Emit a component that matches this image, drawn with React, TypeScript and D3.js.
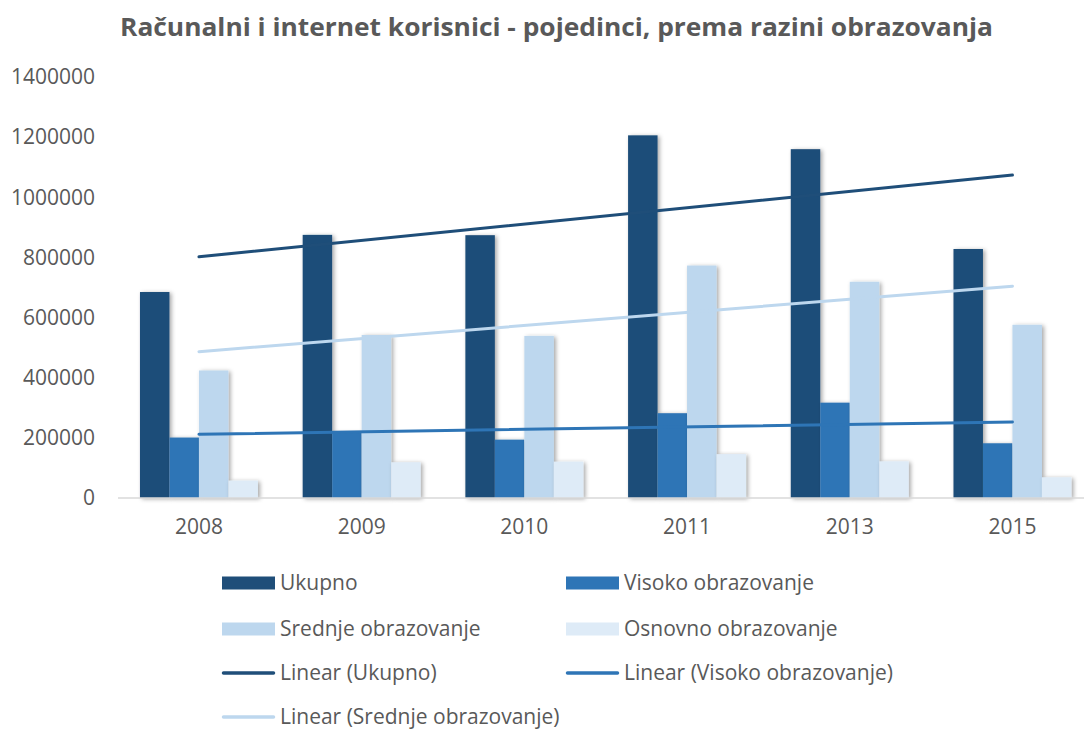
import React from "react";
import * as d3 from "d3";

const categories = ["2008", "2009", "2010", "2011", "2013", "2015"];
const seriesNames = ["Ukupno", "Visoko obrazovanje", "Srednje obrazovanje", "Osnovno obrazovanje"];
const ukupno = [685000, 875000, 874000, 1206000, 1160000, 828000];
const visoko = [201000, 219000, 194000, 282000, 317000, 182000];
const srednje = [424000, 542000, 539000, 773000, 719000, 576000];
const osnovno = [58000, 119000, 121000, 146000, 122000, 69000];
const yTicks = [0, 200000, 400000, 600000, 800000, 1000000, 1200000, 1400000];
const colors = ["#1F4E79", "#2E75B6", "#BDD7EE", "#DEEBF7"];
const trendSeries = [0, 1, 2];

const W = 1084;
const H = 729;
const FONT = "'Open Sans', 'DejaVu Sans', sans-serif";
const TXT = "#595959";

function linReg(vals: number[]) {
  const n = vals.length;
  const xs = vals.map((_, i) => i + 1);
  const mx = d3.mean(xs) as number;
  const my = d3.mean(vals) as number;
  let sxy = 0;
  let sxx = 0;
  xs.forEach((x, i) => {
    sxy += (x - mx) * (vals[i] - my);
    sxx += (x - mx) * (x - mx);
  });
  const b = sxy / sxx;
  const a = my - b * mx;
  return [a + b * 1, a + b * n];
}

export default function App() {
  const data = [ukupno, visoko, srednje, osnovno];
  const x0 = d3.scaleBand<string>().domain(categories).range([117.6, 1093.8]).paddingInner(0.275).paddingOuter(0.1375);
  const x1 = d3.scaleBand<number>().domain([0, 1, 2, 3]).range([0, x0.bandwidth()]);
  const y = d3.scaleLinear().domain([0, 1400000]).range([498, 77]);
  const cx = (c: string) => (x0(c) as number) + x0.bandwidth() / 2;

  const legendItems = [
    { label: seriesNames[0], color: colors[0], type: "bar" },
    { label: seriesNames[1], color: colors[1], type: "bar" },
    { label: seriesNames[2], color: colors[2], type: "bar" },
    { label: seriesNames[3], color: colors[3], type: "bar" },
    { label: "Linear (Ukupno)", color: colors[0], type: "line" },
    { label: "Linear (Visoko obrazovanje)", color: colors[1], type: "line" },
    { label: "Linear (Srednje obrazovanje)", color: colors[2], type: "line" },
  ];
  const legendCols = [222, 566];
  const legendRows = [583, 629, 673, 717];

  return (
    <svg width={W} height={H} style={{ position: "absolute", left: 0, top: 0, background: "#fff" }} fontFamily={FONT}>
      <defs>
        <filter id="shadow" x="-20%" y="-5%" width="150%" height="115%">
          <feDropShadow dx="2" dy="1" stdDeviation="2" floodColor="#000" floodOpacity="0.35" />
        </filter>
      </defs>
      <rect x={0} y={0} width={W} height={H} fill="#fff" />
      <text x={556.5} y={36} textAnchor="middle" fontSize={25} fontWeight="bold" fill={TXT} textLength={873} lengthAdjust="spacingAndGlyphs">
        Računalni i internet korisnici - pojedinci, prema razini obrazovanja
      </text>
      {yTicks.map((t) => (
        <text key={t} x={95} y={y(t)} dy="0.35em" textAnchor="end" fontSize={21} fill={TXT}>
          {t}
        </text>
      ))}
      {data.map((vals, si) => (
        <g key={si} filter="url(#shadow)">
          {vals.map((v, ci) => (
            <rect
              key={ci}
              x={(x0(categories[ci]) as number) + (x1(si) as number)}
              y={y(v)}
              width={x1.bandwidth()}
              height={y(0) - y(v)}
              fill={colors[si]}
            />
          ))}
        </g>
      ))}
      <line x1={118} x2={W} y1={498} y2={498} stroke="#D9D9D9" strokeWidth={1.5} />
      {categories.map((c) => (
        <text key={c} x={cx(c)} y={527} dy="0.35em" textAnchor="middle" fontSize={21} fill={TXT}>
          {c}
        </text>
      ))}
      {trendSeries.map((si) => {
        const [a, b] = linReg(data[si]);
        return (
          <line
            key={si}
            x1={cx(categories[0])}
            x2={cx(categories[categories.length - 1])}
            y1={y(a)}
            y2={y(b)}
            stroke={colors[si]}
            strokeWidth={3}
            strokeLinecap="round"
          />
        );
      })}
      {legendItems.map((it, i) => {
        const lx = legendCols[i % 2];
        const ly = legendRows[Math.floor(i / 2)];
        return (
          <g key={it.label}>
            {it.type === "bar" ? (
              <rect x={lx} y={ly - 6.5} width={53} height={13} fill={it.color} />
            ) : (
              <line x1={lx + 1.5} x2={lx + 51.5} y1={ly} y2={ly} stroke={it.color} strokeWidth={3.5} strokeLinecap="round" />
            )}
            <text x={lx + 58} y={ly} dy="0.35em" fontSize={21} fill={TXT}>
              {it.label}
            </text>
          </g>
        );
      })}
    </svg>
  );
}
